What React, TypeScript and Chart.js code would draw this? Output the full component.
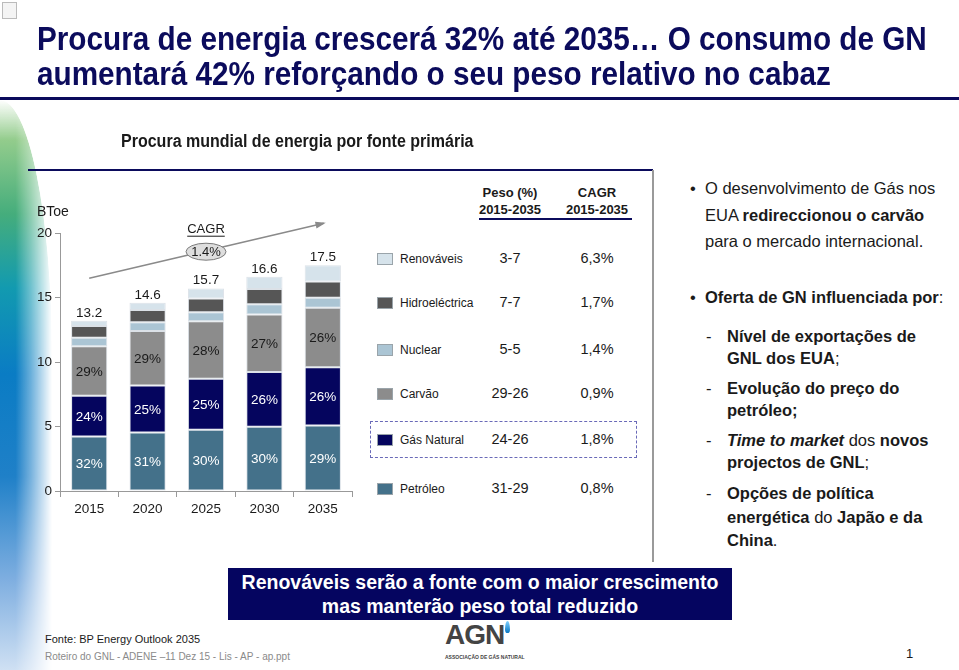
import React, { useEffect, useRef } from "react";
import { Chart, registerables } from "chart.js";
Chart.register(...registerables);

// ---- data ----
const years = ["2015", "2020", "2025", "2030", "2035"];
const petroleo = [4.22, 4.53, 4.75, 4.98, 5.08];
const gasNatural = [3.17, 3.65, 3.95, 4.25, 4.52];
const carvao = [3.83, 4.23, 4.45, 4.45, 4.6];
const nuclear = [0.66, 0.68, 0.7, 0.8, 0.78];
const hidro = [0.92, 0.95, 1.08, 1.17, 1.26];
const renovaveis = [0.4, 0.56, 0.77, 0.95, 1.26];
const totals = [13.2, 14.6, 15.7, 16.6, 17.5];
const petroleoPct = ["32%", "31%", "30%", "30%", "29%"];
const gasPct = ["24%", "25%", "25%", "26%", "26%"];
const carvaoPct = ["29%", "29%", "28%", "27%", "26%"];
const yTicks = [0, 5, 10, 15, 20];
const cagrTotal = "1.4%";

const legendNames = ["Renováveis", "Hidroeléctrica", "Nuclear", "Carvão", "Gás Natural", "Petróleo"];
const pesoRange = ["3-7", "7-7", "5-5", "29-26", "24-26", "31-29"];
const cagrBySource = ["6,3%", "1,7%", "1,4%", "0,9%", "1,8%", "0,8%"];

// ---- styles ----
const COLORS = {
  petroleo: "#44718a",
  gas: "#05055e",
  carvao: "#8c8c8c",
  nuclear: "#abc5d4",
  hidro: "#565656",
  renov: "#d6e3eb",
};
const legendColors = [COLORS.renov, COLORS.hidro, COLORS.nuclear, COLORS.carvao, COLORS.gas, COLORS.petroleo];
const FONT = '"Liberation Sans", Arial, Helvetica, sans-serif';
const NAVY = "#0b0b5c";

const overlayPlugin = {
  id: "overlay",
  afterDatasetsDraw(chart: any) {
    const ctx = chart.ctx;
    const xs = chart.scales.x;
    const ys = chart.scales.y;
    ctx.save();
    ctx.textAlign = "center";
    ctx.textBaseline = "middle";
    ctx.font = `13.5px ${FONT}`;
    const pctSets = [petroleoPct, gasPct, carvaoPct];
    const pctColors = ["#ffffff", "#ffffff", "#1a1a1a"];
    pctSets.forEach((labels, di) => {
      const meta = chart.getDatasetMeta(di);
      meta.data.forEach((el: any, i: number) => {
        const p = el.getProps(["x", "y", "base"], true);
        ctx.fillStyle = pctColors[di];
        ctx.fillText(labels[i], p.x, (p.y + p.base) / 2 + 1);
      });
    });
    // totals
    const top = chart.getDatasetMeta(5);
    ctx.fillStyle = "#1a1a1a";
    ctx.textBaseline = "alphabetic";
    top.data.forEach((el: any, i: number) => {
      const p = el.getProps(["x", "y"], true);
      ctx.fillText(totals[i].toFixed(1), p.x, p.y - 4);
    });
    // arrow
    const x0 = xs.getPixelForValue(0);
    const y0 = ys.getPixelForValue(16.5);
    const x1 = xs.getPixelForValue(4) + 1;
    const y1 = ys.getPixelForValue(20.75);
    ctx.strokeStyle = "#8a8a8a";
    ctx.fillStyle = "#8a8a8a";
    ctx.lineWidth = 1.5;
    ctx.beginPath();
    ctx.moveTo(x0, y0);
    ctx.lineTo(x1, y1);
    ctx.stroke();
    const ang = Math.atan2(y1 - y0, x1 - x0);
    ctx.beginPath();
    ctx.moveTo(x1 + 2, y1 - 0.5);
    ctx.lineTo(x1 - 9 * Math.cos(ang - 0.4), y1 - 9 * Math.sin(ang - 0.4));
    ctx.lineTo(x1 - 9 * Math.cos(ang + 0.4), y1 - 9 * Math.sin(ang + 0.4));
    ctx.closePath();
    ctx.fill();
    // ellipse with CAGR
    const cx = xs.getPixelForValue(2);
    const cy = ys.getPixelForValue(18.55);
    ctx.beginPath();
    ctx.ellipse(cx, cy, 20, 8.5, 0, 0, Math.PI * 2);
    ctx.fillStyle = "#dedede";
    ctx.fill();
    ctx.strokeStyle = "#7a7a7a";
    ctx.lineWidth = 1;
    ctx.stroke();
    ctx.fillStyle = "#1a1a1a";
    ctx.textBaseline = "middle";
    ctx.font = `13px ${FONT}`;
    ctx.fillText(cagrTotal, cx, cy + 1);
    ctx.fillText("CAGR", cx, cy - 22);
    const w = ctx.measureText("CAGR").width;
    ctx.beginPath();
    ctx.moveTo(cx - w / 2, cy - 15.5);
    ctx.lineTo(cx + w / 2, cy - 15.5);
    ctx.strokeStyle = "#1a1a1a";
    ctx.stroke();
    // unit
    ctx.font = `14px ${FONT}`;
    ctx.textAlign = "left";
    ctx.fillText("BToe", chart.chartArea.left - 23, chart.chartArea.top - 21);
    ctx.restore();
  },
};

function BarChart() {
  const ref = useRef<HTMLCanvasElement>(null);
  useEffect(() => {
    if (!ref.current) return;
    const mk = (label: string, data: number[], color: string) => ({
      label,
      data,
      backgroundColor: color,
      borderColor: "rgba(215,222,228,0.9)",
      borderWidth: 1,
      borderSkipped: false,
      barPercentage: 0.62,
      categoryPercentage: 1,
    });
    const chart = new Chart(ref.current, {
      type: "bar",
      data: {
        labels: years,
        datasets: [
          mk("Petróleo", petroleo, COLORS.petroleo),
          mk("Gás Natural", gasNatural, COLORS.gas),
          mk("Carvão", carvao, COLORS.carvao),
          mk("Nuclear", nuclear, COLORS.nuclear),
          mk("Hidroeléctrica", hidro, COLORS.hidro),
          mk("Renováveis", renovaveis, COLORS.renov),
        ],
      },
      options: {
        responsive: false,
        animation: false,
        layout: { padding: { top: 53, right: 13, left: 0, bottom: 0 } },
        plugins: { legend: { display: false }, tooltip: { enabled: false } },
        scales: {
          x: {
            stacked: true,
            grid: { display: true, drawOnChartArea: false, drawTicks: true, tickLength: 6, color: "#999", offset: true },
            border: { color: "#999" },
            ticks: { color: "#1a1a1a", font: { family: FONT, size: 13.5 }, padding: 4 },
            afterFit: (s: any) => {
              s.height = 39;
            },
          },
          y: {
            stacked: true,
            min: 0,
            max: 20,
            afterBuildTicks: (s: any) => {
              s.ticks = yTicks.map((v) => ({ value: v }));
            },
            grid: { display: true, drawOnChartArea: false, drawTicks: true, tickLength: 5, color: "#999" },
            border: { color: "#999" },
            ticks: { color: "#1a1a1a", font: { family: FONT, size: 13.5 }, padding: 3 },
            afterFit: (s: any) => {
              s.width = 40;
            },
          },
        },
      },
      plugins: [overlayPlugin],
    });
    return () => chart.destroy();
  }, []);
  return <canvas ref={ref} width={345} height={350} style={{ position: "absolute", left: 20, top: 180 }} />;
}

const abs = (left: number, top: number, extra: any = {}) => ({ position: "absolute" as const, left, top, ...extra });

export default function App() {
  const rowTops = [259, 303, 350, 394, 440, 489];
  const titleStyle = {
    fontSize: 33,
    fontWeight: "bold",
    color: NAVY,
    lineHeight: "33px",
    whiteSpace: "nowrap" as const,
    transform: "scaleX(0.9)",
    transformOrigin: "0 0",
  };
  return (
    <div style={{ position: "absolute", left: 0, top: 0, width: 959, height: 670, background: "#fff", overflow: "hidden", fontFamily: FONT, color: "#1a1a1a" }}>
      {/* left decorative strip */}
      <div
        style={{
          ...abs(0, 100),
          width: 52,
          height: 570,
          background:
            "linear-gradient(to bottom, rgba(255,255,255,0) 0%, #93cc8c 7%, #45ad7c 20%, #129ab0 33%, #0a7cc4 48%, #1f80c8 66%, #7eaee0 84%, #cfe0f3 100%)",
          WebkitMaskImage: "linear-gradient(to right, #000 30%, rgba(0,0,0,0.6) 60%, transparent 100%)",
          maskImage: "linear-gradient(to right, #000 30%, rgba(0,0,0,0.6) 60%, transparent 100%)",
          borderTopRightRadius: "100% 45%",
        }}
      />
      {/* tiny icon */}
      <div style={{ ...abs(2, 2), width: 13, height: 15, border: "1px solid #bbb", background: "#f4f4f4" }} />
      {/* title */}
      <div style={{ ...abs(37, 22), ...titleStyle }}>Procura de energia crescerá 32% até 2035… O consumo de GN</div>
      <div style={{ ...abs(37, 57), ...titleStyle }}>aumentará 42% reforçando o seu peso relativo no cabaz</div>
      <div style={{ ...abs(0, 97), width: 959, height: 3, background: NAVY }} />
      {/* subtitle */}
      <div style={{ ...abs(121, 131), fontSize: 18, fontWeight: "bold", whiteSpace: "nowrap", transform: "scaleX(0.89)", transformOrigin: "0 0" }}>
        Procura mundial de energia por fonte primária
      </div>
      <div style={{ ...abs(28, 169), width: 625, height: 2, background: NAVY }} />
      <div style={{ ...abs(652, 170), width: 1.5, height: 392, background: "#9a9a9a" }} />

      <BarChart />

      {/* legend table */}
      <div style={{ ...abs(470, 184), width: 80, textAlign: "center", fontSize: 13, fontWeight: "bold", lineHeight: "17px" }}>
        Peso (%)
        <br />
        2015-2035
      </div>
      <div style={{ ...abs(557, 184), width: 80, textAlign: "center", fontSize: 13, fontWeight: "bold", lineHeight: "17px" }}>
        CAGR
        <br />
        2015-2035
      </div>
      <div style={{ ...abs(479, 218), width: 153, height: 2, background: NAVY }} />
      {legendNames.map((n, i) => (
        <React.Fragment key={n}>
          <div style={{ ...abs(377, rowTops[i] - 6), width: 16, height: 12, background: legendColors[i], border: "1px solid #9aa4aa", boxSizing: "border-box" }} />
          <div style={{ ...abs(400, rowTops[i] - 8), fontSize: 12, lineHeight: "16px", whiteSpace: "nowrap" }}>{n}</div>
          <div style={{ ...abs(470, rowTops[i] - 10), width: 80, textAlign: "center", fontSize: 14.5, lineHeight: "18px" }}>{pesoRange[i]}</div>
          <div style={{ ...abs(557, rowTops[i] - 10), width: 80, textAlign: "center", fontSize: 14.5, lineHeight: "18px" }}>{cagrBySource[i]}</div>
        </React.Fragment>
      ))}
      <div style={{ ...abs(370, 421), width: 267, height: 37, border: "1.5px dashed #6a6ab8", boxSizing: "border-box" }} />

      {/* right text */}
      <div style={{ ...abs(690, 175), fontSize: 16.5, lineHeight: "26.5px", whiteSpace: "nowrap" }}>
        <span style={{ position: "absolute", left: 0, top: 0 }}>•</span>
        <div style={{ marginLeft: 15 }}>
          O desenvolvimento de Gás nos
          <br />
          EUA <b>redireccionou o carvão</b>
          <br />
          para o mercado internacional.
        </div>
      </div>
      <div style={{ ...abs(690, 284), fontSize: 16.5, lineHeight: "26px", whiteSpace: "nowrap" }}>
        <span style={{ position: "absolute", left: 0, top: 0 }}>•</span>
        <div style={{ marginLeft: 15 }}>
          <b>Oferta de GN influenciada por</b>:
        </div>
      </div>
      {[
        { top: 325, lh: 22, content: (<><b>Nível de exportações de</b><br /><b>GNL dos EUA</b>;</>) },
        { top: 377, lh: 22, content: (<><b>Evolução do preço do</b><br /><b>petróleo;</b></>) },
        { top: 429, lh: 22, content: (<><b><i>Time to market</i></b> dos <b>novos</b><br /><b>projectos de GNL</b>;</>) },
        { top: 482, lh: 23.5, content: (<><b>Opções de política</b><br /><b>energética</b> do <b>Japão e da</b><br /><b>China</b>.</>) },
      ].map((it, i) => (
        <div key={i} style={{ ...abs(706, it.top), fontSize: 16.5, lineHeight: `${it.lh}px`, whiteSpace: "nowrap" }}>
          <span style={{ position: "absolute", left: 0, top: 0 }}>-</span>
          <div style={{ marginLeft: 21 }}>{it.content}</div>
        </div>
      ))}

      {/* bottom conclusion box */}
      <div
        style={{
          ...abs(228, 568),
          width: 504,
          height: 52,
          background: "#050560",
          color: "#fff",
          fontSize: 19.5,
          fontWeight: "bold",
          lineHeight: "24px",
          textAlign: "center",
          paddingTop: 2,
          boxSizing: "border-box",
        }}
      >
        Renováveis serão a fonte com o maior crescimento
        <br />
        mas manterão peso total reduzido
      </div>

      {/* footer */}
      <div style={{ ...abs(45, 633), fontSize: 11, whiteSpace: "nowrap" }}>Fonte: BP Energy Outlook 2035</div>
      <div style={{ ...abs(45, 651), fontSize: 10, color: "#8a8a8a", whiteSpace: "nowrap" }}>Roteiro do GNL - ADENE –11 Dez 15 - Lis - AP - ap.ppt</div>
      <div style={{ ...abs(906, 646), fontSize: 13, whiteSpace: "nowrap" }}>1</div>

      {/* logo */}
      <div style={{ ...abs(445, 620), fontSize: 28, fontWeight: "bold", color: "#444", letterSpacing: -1, lineHeight: "30px" }}>AGN</div>
      <div style={{ ...abs(505, 621), width: 5, height: 12, borderRadius: "50% 50% 50% 50% / 70% 70% 30% 30%", background: "linear-gradient(#7fd0ff, #0a78c4)" }} />
      <div style={{ ...abs(445, 654), fontSize: 5, fontWeight: "bold", color: "#444", whiteSpace: "nowrap" }}>ASSOCIAÇÃO DE GÁS NATURAL</div>
    </div>
  );
}
